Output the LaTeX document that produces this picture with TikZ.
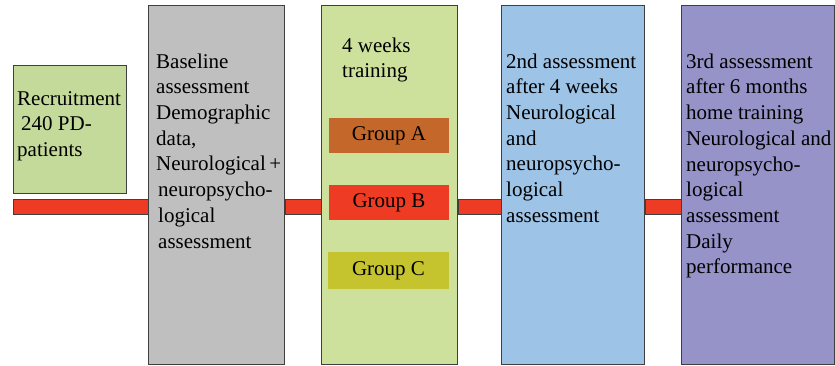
\documentclass[tikz,border=0pt]{standalone}
\usepackage{fontspec}
\setmainfont{Liberation Serif}
\definecolor{recgreen}{HTML}{C3DA9A}
\definecolor{traingreen}{HTML}{CDE09C}
\definecolor{basegray}{HTML}{BFBFBF}
\definecolor{assblue}{HTML}{9DC3E6}
\definecolor{asspurple}{HTML}{9593C7}
\definecolor{barred}{HTML}{EE3B24}
\definecolor{grpA}{HTML}{C4672A}
\definecolor{grpC}{HTML}{C5C42F}
\definecolor{edge}{HTML}{3F3F3F}
\tikzset{
  stagebox/.style={draw=edge, line width=1pt, inner sep=0pt, anchor=north west},
  groupbox/.style={inner sep=0pt, minimum width=120pt, minimum height=35pt,
    font=\fontsize{21}{24}\selectfont},
  label/.style={anchor=north west, inner sep=0pt, align=left,
    font=\fontsize{21}{25.7}\selectfont},
  barseg/.style={draw=edge, line width=1pt, fill=barred}
}
\newcommand{\firstline}{\rule{0pt}{16pt}}
\begin{document}
\begin{tikzpicture}[x=1pt,y=-1pt]
\useasboundingbox (0,0) rectangle (835,366);
% stage boxes
\node[stagebox, fill=recgreen, minimum width=113pt, minimum height=128pt] (rec) at (13,65) {};
\node[stagebox, fill=basegray, minimum width=136pt, minimum height=359pt] (base) at (148,5) {};
\node[stagebox, fill=traingreen, minimum width=136pt, minimum height=359pt] (train) at (321,5) {};
\node[stagebox, fill=assblue, minimum width=143pt, minimum height=359pt] (ass2) at (501,5) {};
\node[stagebox, fill=asspurple, minimum width=153pt, minimum height=359pt] (ass3) at (681,5) {};
% bar
\coordinate (bt) at (0,200);
\coordinate (bb) at (0,215);
\draw[barseg] (rec.west |- bt) rectangle (base.west |- bb);
\draw[barseg] (base.east |- bt) rectangle (train.west |- bb);
\draw[barseg] (train.east |- bt) rectangle (ass2.west |- bb);
\draw[barseg] (ass2.east |- bt) rectangle (ass3.west |- bb);
% groups
\node[groupbox, fill=grpA] (ga) at (389,135.5) {Group A\hspace{4pt}};
\node[groupbox, fill=barred] (gb) at (389,202.5) {Group B\hspace{4pt}};
\node[groupbox, fill=grpC, minimum width=121pt, minimum height=37pt] (gc) at (388.5,270.5) {Group C\hspace{4pt}};
% texts
\node[label] (trec) at (17,89) {\firstline Recruitment\\\hspace{4pt}240 PD-\\patients};
\node[label] (tbase) at (156,52) {\firstline Baseline\\assessment\\Demographic\\data,\\Neurological\,+\\\hspace{2pt}neuropsycho-\\\hspace{2pt}logical\\\hspace{2pt}assessment};
\node[label] (ttrain) at (342,36) {\firstline 4 weeks\\training};
\node[label] (tass2) at (506,52) {\firstline 2nd assessment\\after 4 weeks\\Neurological\\and\\neuropsycho-\\logical\\assessment};
\node[label] (tass3) at (686,52) {\firstline 3rd assessment\\after 6 months\\home training\\Neurological and\\neuropsycho-\\logical\\assessment\\Daily\\performance};
\end{tikzpicture}
\end{document}
